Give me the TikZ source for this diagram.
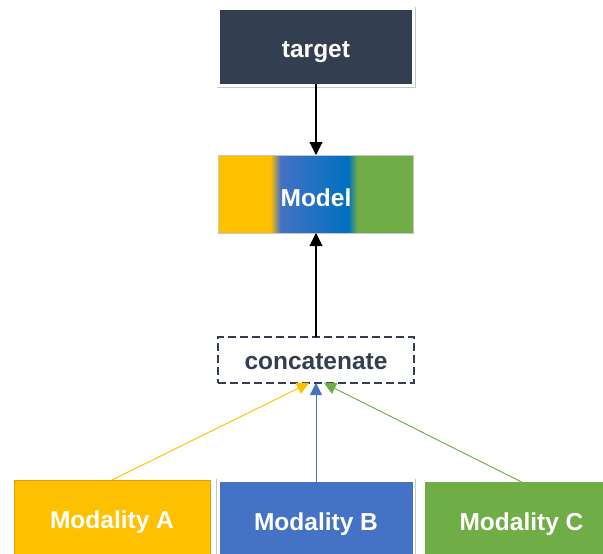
\documentclass[tikz,border=0pt]{standalone}
\usepackage{fontspec}
\setmainfont{Liberation Sans}
\usetikzlibrary{arrows.meta}
\definecolor{navyColor}{RGB}{51,63,80}
\definecolor{yellowColor}{RGB}{255,192,0}
\definecolor{yellowEdge}{RGB}{214,162,10}
\definecolor{blueColor}{RGB}{68,114,196}
\definecolor{deepBlue}{RGB}{0,112,192}
\definecolor{greenColor}{RGB}{112,173,71}
\definecolor{frameColor}{RGB}{200,200,200}
\pgfdeclarehorizontalshading{modelShade}{100bp}{color(0bp)=(yellowColor); color(38.3bp)=(yellowColor); color(40.9bp)=(blueColor); color(58.3bp)=(deepBlue); color(60.6bp)=(greenColor); color(100bp)=(greenColor)}
\begin{document}
\begin{tikzpicture}[x=1pt,y=-1pt,
  box/.style={rectangle,inner sep=0pt,outer sep=0pt,text=white,
    text height=20pt,text depth=0pt,
    font=\bfseries\fontsize{24.5}{28}\selectfont},
  framed/.style={preaction={draw=frameColor,line width=7pt},
    preaction={draw=white,line width=5.4pt}},
  link/.style={line width=1.1pt,-{Triangle[width=13pt,length=13pt]}},
  feed/.style={line width=0.9pt,-{Triangle[width=12pt,length=12pt]}}]
\useasboundingbox (0,0) rectangle (603,554);
\clip (0,0) rectangle (603,554);

% top of the stack
\node[box,framed,fill=navyColor,minimum width=192pt,minimum height=74pt] (target) at (316,47) {target};
\node[box,draw=frameColor,line width=0.6pt,shade,shading=modelShade,text height=24pt,minimum width=195pt,minimum height=78pt] (model) at (316,194) {Model};
\node[box,draw=navyColor,line width=2.2pt,dash pattern=on 8pt off 4pt,text=navyColor,text height=18pt,minimum width=196pt,minimum height=46pt] (concat) at (316,360) {concatenate};

% inputs
\node[box,fill=yellowColor,draw=yellowEdge,line width=0.6pt,minimum width=196pt,minimum height=76pt] (modA) at (112,518) {Modality A};
\node[box,framed,fill=blueColor,minimum width=193pt,minimum height=76pt] (modB) at (316,520) {Modality B};
\node[box,framed,fill=greenColor,minimum width=193pt,minimum height=76pt] (modC) at (521.5,520) {Modality C};

\coordinate (inA) at ([xshift=-7pt]concat.south);
\coordinate (inC) at ([xshift=8pt]concat.south);

\draw[link] (target.south) -- (model.north);
\draw[link] (concat.north) -- (model.south);

\draw[feed,draw=yellowColor,fill=yellowColor] (modA.north) -- (inA);
\draw[feed,draw=blueColor,fill=blueColor] (modB.north) -- (concat.south);
\draw[feed,draw=greenColor,fill=greenColor] (modC.north) -- (inC);
\end{tikzpicture}
\end{document}
